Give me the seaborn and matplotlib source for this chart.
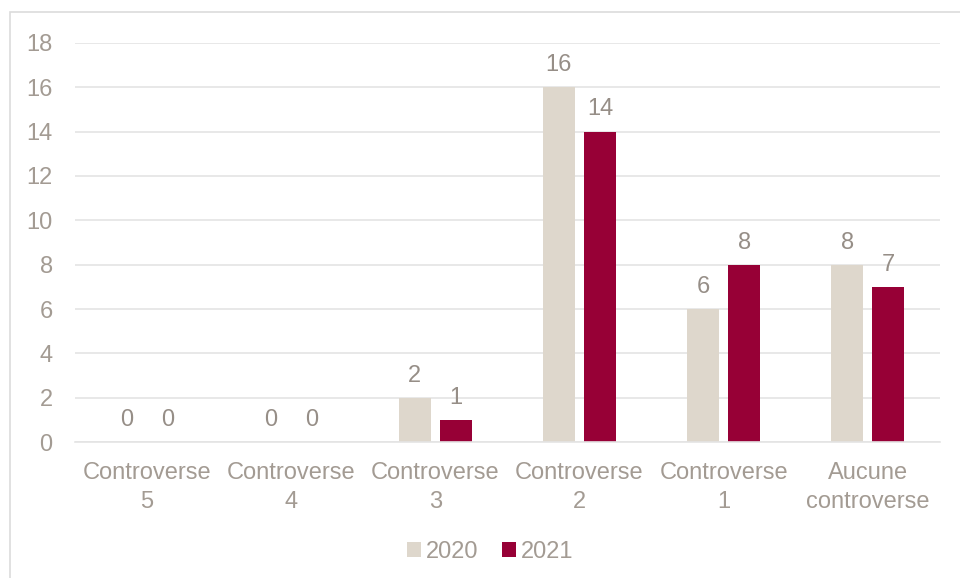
import seaborn as sns
import pandas as pd
import matplotlib.pyplot as plt
from matplotlib.patches import Rectangle

categories = ['Controverse\n5', 'Controverse\n4', 'Controverse\n3', 'Controverse\n2',
              'Controverse\n1', 'Aucune\ncontroverse']
values_2020 = [0, 0, 2, 16, 6, 8]
values_2021 = [0, 0, 1, 14, 8, 7]
years = ['2020', '2021']

df = pd.DataFrame({
    'cat': categories * 2,
    'year': [years[0]] * len(categories) + [years[1]] * len(categories),
    'val': values_2020 + values_2021,
})

sns.set_theme(style='white')
plt.rcParams['font.family'] = ['Liberation Sans', 'DejaVu Sans']

txt = '#a39b93'
grid = '#e4e4e4'
colors = {'2020': '#ded7cc', '2021': '#970036'}
fs = 17

fig = plt.figure(figsize=(9.6, 5.78), dpi=100)
ax = fig.add_axes([0.078, 0.235, 0.901, 0.691])

sns.barplot(data=df, x='cat', y='val', hue='year', palette=colors,
            width=0.57, gap=0.22, ax=ax, saturation=1, legend=True, linewidth=0)

ax.set_ylim(0, 18)
ax.set_xlim(-0.5, 5.5)
ax.set_yticks(range(0, 19, 2))
ax.yaxis.grid(True, color=grid, linewidth=1.2)
ax.set_axisbelow(True)
for s in ['top', 'right', 'left']:
    ax.spines[s].set_visible(False)
ax.spines['bottom'].set_color(grid)
ax.spines['bottom'].set_linewidth(1.2)
ax.tick_params(axis='y', length=0, labelsize=fs, labelcolor=txt, pad=16)
ax.tick_params(axis='x', length=0, labelsize=fs, labelcolor=txt, pad=14)
for lbl in ax.get_xticklabels():
    lbl.set_linespacing(1.45)
ax.set_xlabel('')
ax.set_ylabel('')

for c in ax.containers:
    ax.bar_label(c, labels=[f'{v:.0f}' for v in c.datavalues], padding=8,
                 fontsize=fs, color='#968e87')

leg = ax.legend(loc='center', bbox_to_anchor=(0.48, -0.275), ncol=2, frameon=False,
                fontsize=fs, handlelength=0.6, handleheight=0.6, handletextpad=0.2,
                columnspacing=1.0, borderpad=0)
for t in leg.get_texts():
    t.set_color(txt)

fig.patches.append(Rectangle((10 / 960, -0.1), 1.2, 1 - 12 / 578 + 0.1, transform=fig.transFigure,
                             fill=False, edgecolor='#dcdcdc', linewidth=1.2))

fig.savefig('out.png', dpi=100)
